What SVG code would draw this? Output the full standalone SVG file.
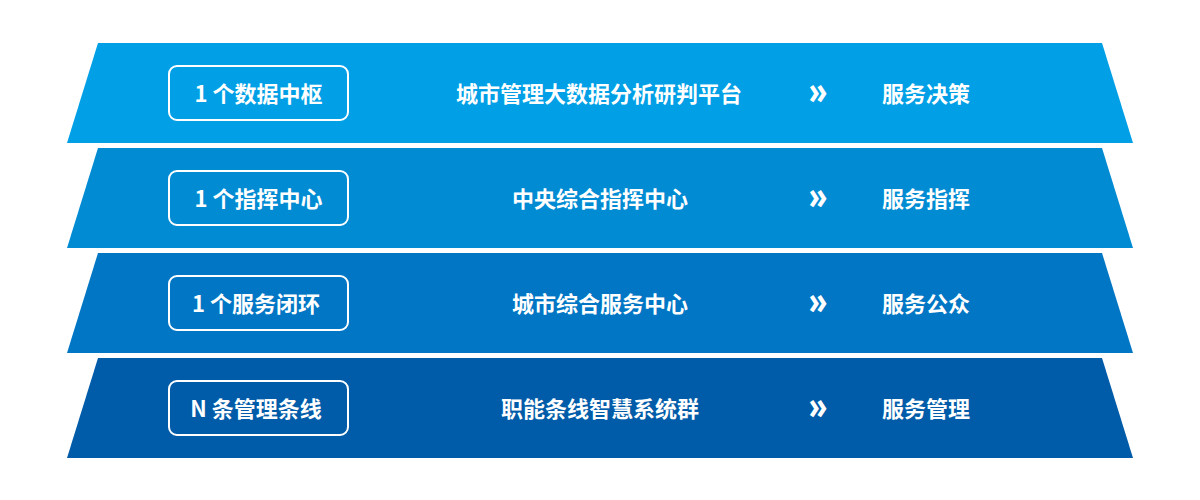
<svg xmlns="http://www.w3.org/2000/svg" width="1200" height="500" viewBox="0 0 1200 500">
<defs>
<style>
.t{font-family:"Noto Sans CJK SC","Noto Sans",sans-serif;font-weight:700;font-size:22px;fill:#fff;text-anchor:middle}
.box{fill:none;stroke:#fff;stroke-width:2}
.arr{font-family:"Noto Sans","DejaVu Sans",sans-serif;font-weight:700;font-size:38px;fill:#fff;text-anchor:middle}
</style>
</defs>
<rect width="1200" height="500" fill="#fff"/>
<g id="row1">
<polygon points="98,43 1102,43 1133,143 67,143" fill="#009fe6"/>
<rect class="box" x="169" y="66" width="179" height="54" rx="8"/>
<text class="t" x="258.5" y="101.5">1 个数据中枢</text>
<text class="t" x="599" y="101.5">城市管理大数据分析研判平台</text>
<text class="arr" transform="translate(818,103.5) scale(0.8,1)">»</text>
<text class="t" x="926" y="101.5">服务决策</text>
</g>
<g id="row2">
<polygon points="98,148 1102,148 1133,248 67,248" fill="#008bd3"/>
<rect class="box" x="169" y="171" width="179" height="54" rx="8"/>
<text class="t" x="258.5" y="206.5">1 个指挥中心</text>
<text class="t" x="600" y="206.5">中央综合指挥中心</text>
<text class="arr" transform="translate(818,208.5) scale(0.8,1)">»</text>
<text class="t" x="926" y="206.5">服务指挥</text>
</g>
<g id="row3">
<polygon points="98,253 1102,253 1133,353 67,353" fill="#0076c4"/>
<rect class="box" x="169" y="276" width="179" height="54" rx="8"/>
<text class="t" x="256" y="311.5">1 个服务闭环</text>
<text class="t" x="600" y="311.5">城市综合服务中心</text>
<text class="arr" transform="translate(818,313.5) scale(0.8,1)">»</text>
<text class="t" x="926" y="311.5">服务公众</text>
</g>
<g id="row4">
<polygon points="98,358 1102,358 1133,458 67,458" fill="#005ba8"/>
<rect class="box" x="169" y="381" width="179" height="54" rx="8"/>
<text class="t" x="256" y="416.5">N 条管理条线</text>
<text class="t" x="600" y="416.5">职能条线智慧系统群</text>
<text class="arr" transform="translate(818,418.5) scale(0.8,1)">»</text>
<text class="t" x="926" y="416.5">服务管理</text>
</g>
<g id="connectors"/>
</svg>
